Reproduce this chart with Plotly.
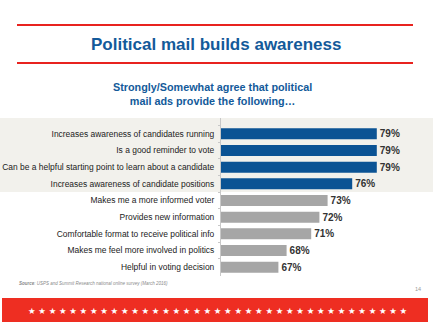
import plotly.graph_objects as go

categories = [
    "Increases awareness of candidates running",
    "Is a good reminder to vote",
    "Can be a helpful starting point to learn about a candidate",
    "Increases awareness of candidate positions",
    "Makes me a more informed voter",
    "Provides new information",
    "Comfortable format to receive political info",
    "Makes me feel more involved in politics",
    "Helpful in voting decision",
]
values = [79, 79, 79, 76, 73, 72, 71, 68, 67]
n_highlight = 4

title = "Political mail builds awareness"
subtitle = "Strongly/Somewhat agree that political<br>mail ads provide the following…"
source = "<b>Source</b>: USPS and Summit Research national online survey (March 2016)"
page_no = "14"

W, H = 433, 325
BLUE = "#0b5394"
GREY = "#a6a6a6"
RED = "#ee2e22"
TITLE_BLUE = "#135a9a"

def px(y):
    return 1 - y / H

bar_colors = [BLUE if i < n_highlight else GREY for i in range(len(values))]

fig = go.Figure(go.Bar(
    x=values, y=categories, orientation="h",
    marker=dict(color=bar_colors, line=dict(width=0)),
    width=0.66,
    texttemplate="<b>%{x}%</b>", textposition="outside",
    textfont=dict(family="Liberation Sans, Arial", size=10, color="#333333"),
    cliponaxis=False,
))

fig.update_layout(
    width=W, height=H,
    margin=dict(l=0, r=0, t=0, b=0),
    paper_bgcolor="white",
    plot_bgcolor="rgba(0,0,0,0)",
    showlegend=False,
    font=dict(family="Liberation Sans, Arial", color="#222222"),
    xaxis=dict(domain=[221 / W, 385 / W], range=[60, 80], visible=False),
    yaxis=dict(
        domain=[px(275.5), px(118)],
        range=[8.5, -0.95],
        showline=True, linecolor="#c8c8c8", linewidth=1,
        ticks="outside", ticklen=2, tickcolor="#c8c8c8",
        tickson="boundaries",
        ticklabelstandoff=4,
        tickfont=dict(size=8.45, color="#222222"),
        showgrid=False,
    ),
    bargap=0.34,
)

# grey band behind highlighted rows
fig.add_shape(type="rect", xref="paper", yref="paper", x0=0, x1=1,
              y0=px(192), y1=px(118), fillcolor="#f2f1ec", line=dict(width=0),
              layer="below")
# red rules around the title
for yy in (25, 63):
    fig.add_shape(type="line", xref="paper", yref="paper", x0=17 / W, x1=413 / W,
                  y0=px(yy), y1=px(yy), line=dict(color="#e8231f", width=2))
# red footer band
fig.add_shape(type="rect", xref="paper", yref="paper", x0=2 / W, x1=428 / W,
              y0=px(322), y1=px(298), fillcolor=RED, line=dict(width=0))

fig.add_annotation(text="<b>" + title + "</b>", xref="paper", yref="paper",
                   x=216 / W, y=px(45), showarrow=False, xanchor="center", yanchor="middle",
                   font=dict(size=17, color=TITLE_BLUE))
fig.add_annotation(text="<b>" + subtitle + "</b>", xref="paper", yref="paper",
                   x=212 / W, y=px(93.5), showarrow=False, xanchor="center", yanchor="middle",
                   font=dict(size=10.8, color=TITLE_BLUE))
fig.add_annotation(text="<i>" + source + "</i>", xref="paper", yref="paper",
                   x=17 / W, y=px(283), showarrow=False, xanchor="left", yanchor="middle",
                   font=dict(size=4.5, color="#8a8a8a"))
fig.add_annotation(text=page_no, xref="paper", yref="paper",
                   x=418 / W, y=px(289), showarrow=False, xanchor="center", yanchor="middle",
                   font=dict(size=5.5, color="#999999"))
fig.add_annotation(text=" ".join(["★"] * 37), xref="paper", yref="paper",
                   x=218 / W, y=px(310.5), showarrow=False, xanchor="center", yanchor="middle",
                   font=dict(family="DejaVu Sans", size=8.5, color="white"))

fig.write_html("out.html")
